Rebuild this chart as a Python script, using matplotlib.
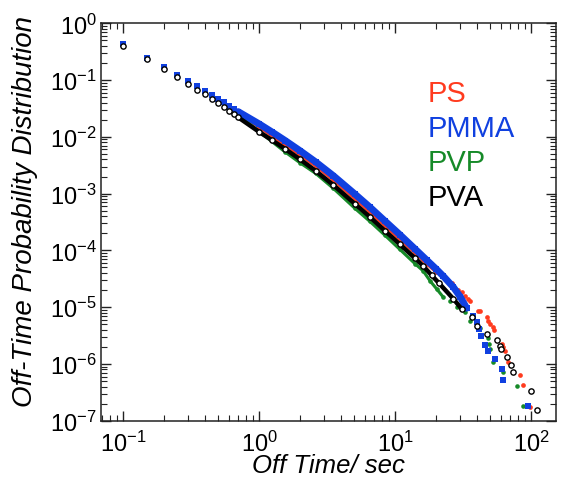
# Off-time probability distributions for four polymer hosts (log-log)
import numpy as np
import matplotlib
matplotlib.use("Agg")
import matplotlib.pyplot as plt
from matplotlib.ticker import LogLocator, NullFormatter

plt.rcParams["font.family"] = ["Liberation Sans", "DejaVu Sans"]
plt.rcParams["mathtext.default"] = "regular"

# Data (off time in s, probability)
ps_time = [0.1, 0.15, 0.2, 0.25, 0.3, 0.35, 0.4, 0.45, 0.5, 0.55, 0.6, 0.65, 0.7,
           1.0, 1.55, 2.0, 2.6, 3.5, 5.05, 6.5, 8.4, 10.8, 14, 17, 20,
           21.9, 23.2, 24.5, 25.9, 26.7, 29.0, 30.7, 32.4, 34.4, 35.3, 40.6, 41.8,
           46.9, 48.1, 49.5, 52.4, 53.2, 60.4, 62, 63.8, 67.5, 82.2, 86.9, 97.3]
ps_prob = [0.43, 0.248, 0.166, 0.121, 0.094, 0.077, 0.063, 0.053, 0.0445, 0.039, 0.034, 0.0298, 0.0266,
           0.0149, 7.2e-3, 4.8e-3, 3.07e-3, 1.74e-3, 8.07e-4, 4.76e-4, 2.7e-4, 1.56e-4, 9.0e-5, 5.78e-5, 4.18e-5,
           3.6e-5, 3.24e-5, 2.94e-5, 2.65e-5, 2.4e-5, 2.04e-5, 1.88e-5, 1.6e-5, 1.4e-5, 1.28e-5, 8.7e-6, 8.4e-6,
           6.7e-6, 5.8e-6, 5.1e-6, 4.4e-6, 3.9e-6, 2.26e-6, 2.0e-6, 1.72e-6, 1.08e-6, 6.4e-7, 4.2e-7, 1.73e-7]

pmma_time = [0.1, 0.15, 0.2, 0.25, 0.3, 0.35, 0.4, 0.45, 0.5, 0.55, 0.6, 0.65, 0.7,
             1.0, 1.25, 1.55, 2.0, 2.6, 3.5, 5.05, 6.5, 8.4, 10.8, 14, 17, 20,
             22.5, 26.7, 30, 33.4, 37.3, 39.5, 41.3, 42.5, 45.5, 48.1, 53.8, 60.4, 62, 94.6]
pmma_prob = [0.432, 0.245, 0.168, 0.123, 0.0965, 0.0797, 0.0652, 0.0547, 0.0459, 0.0406, 0.0354, 0.031, 0.0278,
             0.01687, 0.01205, 8.61e-3, 5.67e-3, 3.61e-3, 2.07e-3, 9.8e-4, 5.78e-4, 3.28e-4, 1.89e-4,
             1.05e-4, 6.75e-5, 4.67e-5,
             3.52e-5, 2.25e-5, 1.52e-5, 9.6e-6, 7.1e-6, 5.4e-6, 4.1e-6, 3.1e-6, 2.17e-6, 1.72e-6, 1.23e-6,
             8.0e-7, 5.3e-7, 1.78e-7]

pvp_time = [0.1, 0.15, 0.2, 0.25, 0.3, 0.35, 0.4, 0.45, 0.5, 0.55, 0.6, 0.65, 0.7,
            1.0, 1.55, 2.0, 2.6, 3.5, 5.05, 6.5, 8.4, 10.8, 14, 16, 18, 20.1,
            22.3, 25.2, 28.2, 32.4, 35.3, 42, 48.1, 48.6, 49.4, 51.9, 62, 77.8, 86.9]
pvp_prob = [0.418, 0.24, 0.161, 0.119, 0.09, 0.073, 0.06, 0.05, 0.0425, 0.037, 0.032, 0.0278, 0.0245,
            0.0124, 5.42e-3, 3.47e-3, 2.27e-3, 1.24e-3, 5.49e-4, 3.24e-4, 1.84e-4, 1.04e-4, 5.78e-5,
            4.36e-5, 2.9e-5, 2.1e-5,
            1.54e-5, 1.28e-5, 1.0e-5, 8.2e-6, 5.8e-6, 4.3e-6, 2.85e-6, 2.26e-6, 1.85e-6, 1.08e-6,
            7.3e-7, 4.1e-7, 1.8e-7]

pva_time = [0.1, 0.15, 0.2, 0.25, 0.3, 0.35, 0.4, 0.45, 0.5, 0.55, 0.6, 0.65, 0.7,
            1.0, 1.25, 1.55, 2.0, 2.6, 3.5, 5.05, 6.5, 8.4, 10.8, 14, 16, 18.5, 21,
            26.7, 30.7, 36.4, 39.5, 46.9, 55.5, 58.6, 59.8, 66.3, 71, 73, 100, 109]
pva_prob = [0.403, 0.235, 0.155, 0.115, 0.0854, 0.0678, 0.0562, 0.0465, 0.0395, 0.034, 0.0289, 0.025, 0.0221,
            0.0122, 8.64e-3, 6.12e-3, 4.0e-3, 2.51e-3, 1.42e-3, 6.59e-4, 3.89e-4, 2.2e-4, 1.28e-4,
            7.23e-5, 5.33e-5, 3.63e-5, 2.62e-5,
            1.4e-5, 9.3e-6, 6.7e-6, 4.7e-6, 3.4e-6, 2.6e-6, 2.1e-6, 1.8e-6, 1.32e-6, 9.6e-7, 7.2e-7,
            3.4e-7, 1.57e-7]

labels = ["PS", "PMMA", "PVP", "PVA"]

# colours
c_ps, c_pmma, c_pvp, c_pva = "#ff3b1f", "#1040e0", "#168a28", "black"

fig = plt.figure(figsize=(5.62, 4.89), dpi=100)
ax = fig.add_axes([0.18, 0.1376, 0.809, 0.8127])


def draw(t, p, dense_end, col, lw, **mk):
    t = np.array(t)
    p = np.array(p)
    # points are so close above ~0.7 s that they merge into a band
    band = (t >= 0.7) & (t <= dense_end)
    ax.plot(t[band], p[band], "-", color=col, lw=lw,
            solid_capstyle="round", solid_joinstyle="round")
    ax.plot(t, p, ls="none", **mk)


draw(ps_time, ps_prob, 20, c_ps, 2.4,
     marker="o", ms=3.4, color=c_ps, mew=0)
draw(pvp_time, pvp_prob, 22.3, c_pvp, 2.2,
     marker="o", ms=3.3, color=c_pvp, mew=0)
draw(pmma_time, pmma_prob, 33.4, c_pmma, 5.0,
     marker="s", ms=4.6, color=c_pmma, mew=0)
draw(pva_time, pva_prob, 30.7, c_pva, 3.2,
     marker="o", ms=3.8, mfc="white", mec="black", mew=1.0)

ax.set_xscale("log")
ax.set_yscale("log")
ax.set_xlim(0.069, 151)
ax.set_ylim(1e-7, 1)

ax.xaxis.set_major_locator(LogLocator(base=10, numticks=20))
ax.yaxis.set_major_locator(LogLocator(base=10, numticks=20))
ax.xaxis.set_minor_locator(LogLocator(base=10, subs=np.arange(2, 10), numticks=20))
ax.yaxis.set_minor_locator(LogLocator(base=10, subs=np.arange(2, 10), numticks=20))
ax.xaxis.set_minor_formatter(NullFormatter())
ax.yaxis.set_minor_formatter(NullFormatter())

ax.tick_params(which="both", direction="in", top=True, right=True, labelsize=17, color="#222222")
ax.tick_params(which="major", length=7, width=1.0)
ax.tick_params(which="minor", length=4, width=0.8)
ax.tick_params(axis="x", which="major", pad=7)
ax.tick_params(axis="y", which="major", pad=3)
for s in ax.spines.values():
    s.set_linewidth(1.1)
    s.set_color("#222222")

ax.set_xlabel("Off Time/ sec", fontsize=18.5, style="italic")
ax.set_ylabel("Off-Time Probability Distribution", fontsize=20, style="italic")
ax.xaxis.set_label_coords(0.5, -0.082)
ax.yaxis.set_label_coords(-0.138, 0.53)

# coloured text legend
for i, (name, col) in enumerate(zip(labels, [c_ps, c_pmma, c_pvp, c_pva])):
    ax.text(0.717, 0.804 - i * 0.0868, name, color=col, fontsize=21,
            transform=ax.transAxes, ha="left", va="baseline")

fig.savefig("out.png", dpi=100)
